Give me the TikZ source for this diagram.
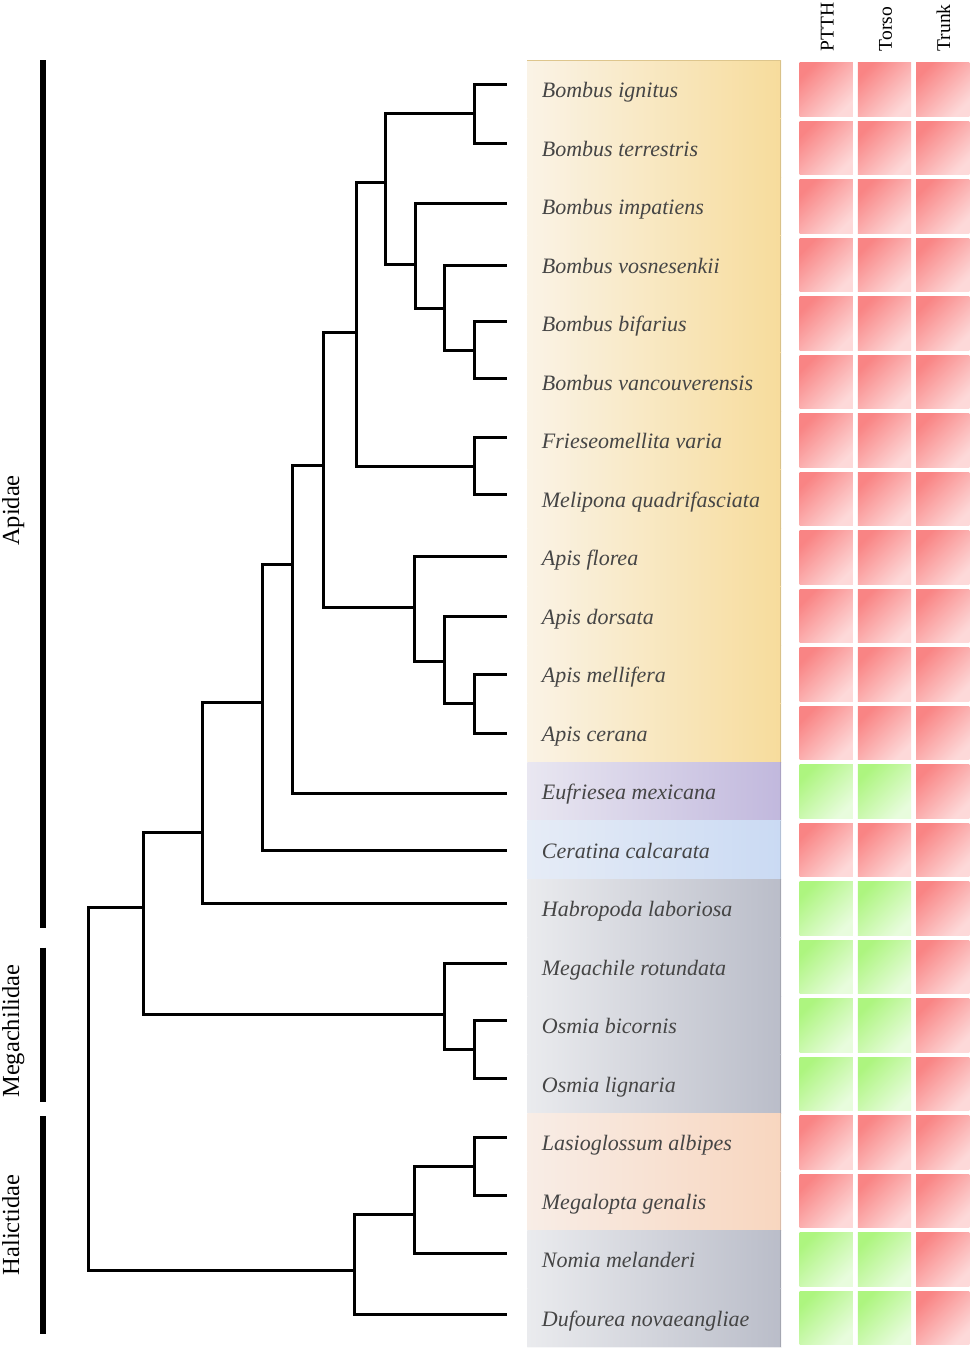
\documentclass[tikz,border=0pt]{standalone}
\usepackage{fontspec}
\setmainfont{Liberation Serif}
\definecolor{yelL}{HTML}{FAF3E6}
\definecolor{yelR}{HTML}{F7DC9C}
\definecolor{purL}{HTML}{E9E7F1}
\definecolor{purR}{HTML}{C1B8DD}
\definecolor{bluL}{HTML}{E6ECF6}
\definecolor{bluR}{HTML}{CADAF3}
\definecolor{greL}{HTML}{EAEBEE}
\definecolor{greR}{HTML}{BABDC9}
\definecolor{peaL}{HTML}{F8EDE6}
\definecolor{peaR}{HTML}{F8D6BF}
\definecolor{RTL}{HTML}{F98484}
\definecolor{RBR}{HTML}{FDD9D9}
\definecolor{GTL}{HTML}{ADF57F}
\definecolor{GBR}{HTML}{E8FCDD}
\definecolor{labtext}{HTML}{454545}
\begin{document}
\begin{tikzpicture}[x=1pt,y=-1pt,
  tree/.style={line width=3pt, line cap=rect, line join=miter},
  famline/.style={line width=6pt},
  species/.style={anchor=base west, inner sep=0pt, text=labtext, font=\fontsize{22}{26}\selectfont\itshape},
  header/.style={rotate=90, anchor=base west, inner sep=0pt, font=\fontsize{19.5}{23}\selectfont},
  famlabel/.style={rotate=90, anchor=base, inner sep=0pt, font=\fontsize{24.5}{29}\selectfont},
  sqbox/.style={minimum size=53.3pt, inner sep=0pt},
  redsq/.style={sqbox, top color=RTL, bottom color=RBR, shading angle=45},
  grnsq/.style={sqbox, top color=GTL, bottom color=GBR, shading angle=45}]
\useasboundingbox (0,0) rectangle (975,1352);
\fill[white] (0,0) rectangle (975,1352);

% label cells, species names and heat squares
\foreach \i/\name/\cl/\p in {
  0/Bombus ignitus/yel/red, 1/Bombus terrestris/yel/red, 2/Bombus impatiens/yel/red,
  3/Bombus vosnesenkii/yel/red, 4/Bombus bifarius/yel/red, 5/Bombus vancouverensis/yel/red,
  6/Frieseomellita varia/yel/red, 7/Melipona quadrifasciata/yel/red, 8/Apis florea/yel/red,
  9/Apis dorsata/yel/red, 10/Apis mellifera/yel/red, 11/Apis cerana/yel/red,
  12/Eufriesea mexicana/pur/grn, 13/Ceratina calcarata/blu/red, 14/Habropoda laboriosa/gre/grn,
  15/Megachile rotundata/gre/grn, 16/Osmia bicornis/gre/grn, 17/Osmia lignaria/gre/grn,
  18/Lasioglossum albipes/pea/red, 19/Megalopta genalis/pea/red, 20/Nomia melanderi/gre/grn,
  21/Dufourea novaeangliae/gre/grn}{
  \pgfmathsetmacro{\ytop}{60+58.5*\i}
  \pgfmathsetmacro{\ybot}{60+58.5*(\i+1)}
  \pgfmathsetmacro{\ybase}{89.25+58.5*\i+8.3}
  \pgfmathsetmacro{\ysq}{89.6+58.5*\i}
  \path[left color=\cl L, right color=\cl R] (527.3,\ytop) rectangle (781,\ybot);
  \draw[\cl R!88!black, line width=1pt] (780.5,\ytop) -- (780.5,\ybot);
  \draw[white, line width=0.7pt, opacity=0.7] (527.3,\ybot) -- (781,\ybot);
  \node[species] (lab\i) at (541.7,\ybase) {\name};
  \node[\p sq] (sqa\i) at (826.15,\ysq) {};
  \node[\p sq] (sqb\i) at (884.45,\ysq) {};
  \node[redsq] (sqc\i) at (942.75,\ysq) {};
}
\draw[yelR!90!black, line width=1pt] (527.3,60.5) -- (781,60.5);

% headers
\node[header] (hPTTH) at (833.6,51.5) {PTTH};
\node[header] (hTorso) at (891.8,51.5) {Torso};
\node[header] (hTrunk) at (950.1,51.5) {Trunk};

% leaves
\foreach \k/\yy in {0/84.5,1/143,2/203,3/265,4/321,5/378.5,6/437,7/494.5,8/556.5,9/616.5,10/674.5,11/733.5,12/793.5,13/850,14/903.5,15/963,16/1020,17/1078,18/1137,19/1195,20/1253,21/1314}{
  \coordinate (L\k) at (505,\yy);
}
% internal nodes
\coordinate (a1) at (474,113.7);
\coordinate (a2) at (474,350);
\coordinate (a3) at (444,308);
\coordinate (a4) at (415,264);
\coordinate (a5) at (385,182);
\coordinate (a6) at (474,466);
\coordinate (a7) at (356,332);
\coordinate (b1) at (474,703.5);
\coordinate (b2) at (444,661.7);
\coordinate (b3) at (414,607);
\coordinate (c1) at (323,465.5);
\coordinate (c2) at (292.7,564);
\coordinate (c3) at (262,702);
\coordinate (c4) at (202,832);
\coordinate (m1) at (474,1049);
\coordinate (m2) at (444,1014);
\coordinate (c5) at (143,907);
\coordinate (h1) at (474,1166);
\coordinate (h2) at (414,1214);
\coordinate (h3) at (354,1270);
\coordinate (root) at (88,1100);

\draw[tree] (a1) |- (L0);  \draw[tree] (a1) |- (L1);
\draw[tree] (a2) |- (L4);  \draw[tree] (a2) |- (L5);
\draw[tree] (a3) |- (L3);  \draw[tree] (a3) |- (a2);
\draw[tree] (a4) |- (L2);  \draw[tree] (a4) |- (a3);
\draw[tree] (a5) |- (a1);  \draw[tree] (a5) |- (a4);
\draw[tree] (a6) |- (L6);  \draw[tree] (a6) |- (L7);
\draw[tree] (a7) |- (a5);  \draw[tree] (a7) |- (a6);
\draw[tree] (b1) |- (L10); \draw[tree] (b1) |- (L11);
\draw[tree] (b2) |- (L9);  \draw[tree] (b2) |- (b1);
\draw[tree] (b3) |- (L8);  \draw[tree] (b3) |- (b2);
\draw[tree] (c1) |- (a7);  \draw[tree] (c1) |- (b3);
\draw[tree] (c2) |- (c1);  \draw[tree] (c2) |- (L12);
\draw[tree] (c3) |- (c2);  \draw[tree] (c3) |- (L13);
\draw[tree] (c4) |- (c3);  \draw[tree] (c4) |- (L14);
\draw[tree] (m1) |- (L16); \draw[tree] (m1) |- (L17);
\draw[tree] (m2) |- (L15); \draw[tree] (m2) |- (m1);
\draw[tree] (c5) |- (c4);  \draw[tree] (c5) |- (m2);
\draw[tree] (h1) |- (L18); \draw[tree] (h1) |- (L19);
\draw[tree] (h2) |- (h1);  \draw[tree] (h2) |- (L20);
\draw[tree] (h3) |- (h2);  \draw[tree] (h3) |- (L21);
\draw[tree] (root) |- (c5); \draw[tree] (root) |- (h3);

% family bars
\coordinate (apT) at (43,60);   \coordinate (apB) at (43,928);
\coordinate (meT) at (43,947.7); \coordinate (meB) at (43,1101.5);
\coordinate (haT) at (43,1116); \coordinate (haB) at (43,1334);
\draw[famline] (apT) -- (apB);
\draw[famline] (meT) -- (meB);
\draw[famline] (haT) -- (haB);
\node[famlabel] (fAp) at (19.2,510.5) {Apidae};
\node[famlabel] (fMe) at (19.2,1031) {Megachilidae};
\node[famlabel] (fHa) at (19.2,1225) {Halictidae};
\end{tikzpicture}
\end{document}
